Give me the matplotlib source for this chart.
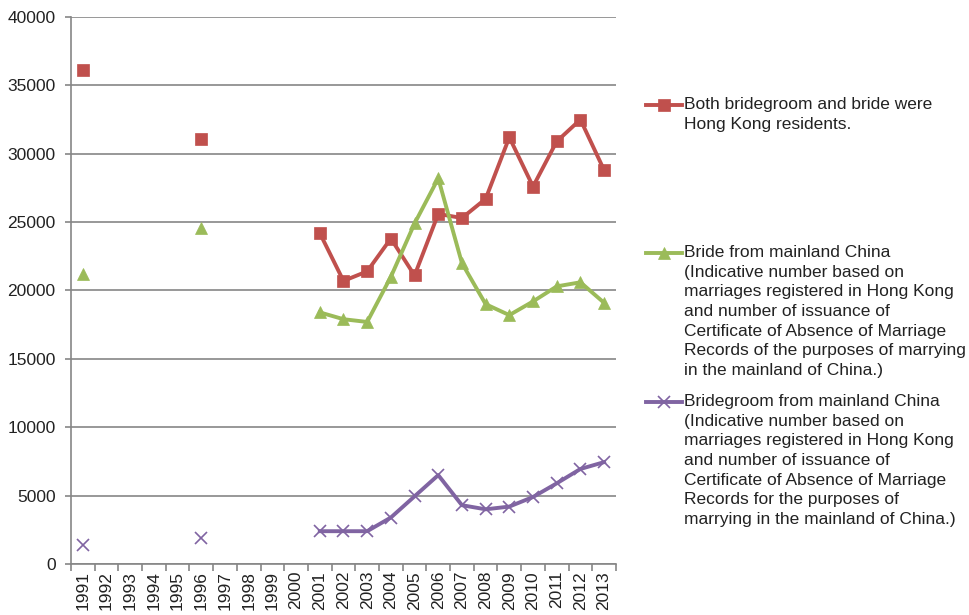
import numpy as np
import matplotlib.pyplot as plt
from matplotlib.lines import Line2D

plt.rcParams['font.family'] = ['Liberation Sans', 'DejaVu Sans']

# Marriage registrations by residence of bride and groom
years = list(range(1991, 2014))
nan = np.nan
both_hk = [36100, nan, nan, nan, nan, 31100, nan, nan, nan, nan,
           24200, 20700, 21400, 23800, 21100, 25600, 25300, 26700,
           31200, 27600, 30900, 32500, 28800]
bride_mainland = [21200, nan, nan, nan, nan, 24600, nan, nan, nan, nan,
                  18400, 17900, 17700, 21000, 24900, 28200, 22000, 19000,
                  18200, 19200, 20300, 20600, 19100]
groom_mainland = [1400, nan, nan, nan, nan, 1900, nan, nan, nan, nan,
                  2400, 2400, 2400, 3400, 4950, 6500, 4300, 4000,
                  4200, 4900, 5900, 6950, 7450]

labels = [
    "Both bridegroom and bride were\nHong Kong residents.",
    "Bride from mainland China\n(Indicative number based on\nmarriages registered in Hong Kong\n"
    "and number of issuance of\nCertificate of Absence of Marriage\n"
    "Records of the purposes of marrying\nin the mainland of China.)",
    "Bridegroom from mainland China\n(Indicative number based on\nmarriages registered in Hong Kong\n"
    "and number of issuance of\nCertificate of Absence of Marriage\n"
    "Records for the purposes of\nmarrying in the mainland of China.)",
]

colors = ['#C0504D', '#9BBB59', '#8064A2']
markers = ['s', '^', 'x']
grid_c = '#868686'
txt_c = '#222222'
fs = 12.5

fig = plt.figure(figsize=(9.7, 6.15), dpi=100)
ax = fig.add_axes([0.0732, 0.0829, 0.5618, 0.8895])

x = np.arange(len(years))
series = [both_hk, bride_mainland, groom_mainland]
for vals, c, m in zip(series, colors, markers):
    ax.plot(x, vals, color=c, lw=2.8, marker=m, markersize=9,
            markeredgewidth=1.2 if m == 'x' else 0.5, markeredgecolor=c,
            zorder=3)

ax.set_xlim(-0.5, len(years) - 0.5)
ax.set_ylim(0, 40000)
ax.set_yticks(np.arange(0, 40001, 5000))
ax.yaxis.grid(True, color=grid_c, lw=1.2)
ax.set_axisbelow(True)

ax.set_xticks(x)
ax.set_xticklabels([str(y) for y in years], rotation=90)
ax.set_xticks(np.arange(-0.5, len(years)), minor=True)
ax.tick_params(axis='x', which='major', length=0, pad=5, labelsize=fs,
               colors=txt_c)
ax.tick_params(axis='x', which='minor', length=5, color=grid_c, width=1.2)
ax.tick_params(axis='y', length=4, color=grid_c, width=1.2, labelsize=fs,
               labelcolor=txt_c, pad=7)

for s in ['top', 'right']:
    ax.spines[s].set_visible(False)
for s in ['left', 'bottom']:
    ax.spines[s].set_color(grid_c)
    ax.spines[s].set_linewidth(1.2)

# legend entries, handle aligned with the first text line
W, H = 970, 615
first_line_y = [105, 253, 402]
for lab, c, m, yy in zip(labels, colors, markers, first_line_y):
    yf = 1 - yy / H
    fig.add_artist(Line2D([646 / W, 682 / W], [yf, yf], transform=fig.transFigure,
                          color=c, lw=2.8))
    fig.add_artist(Line2D([664 / W], [yf], transform=fig.transFigure, color=c,
                          marker=m, markersize=8, markeredgewidth=1.2 if m == 'x' else 0.5,
                          markeredgecolor=c))
    fig.text(684 / W, yf + 8 / H, lab, ha='left', va='top', fontsize=fs,
             color=txt_c, linespacing=1.39)

fig.savefig('out.png', dpi=100)
